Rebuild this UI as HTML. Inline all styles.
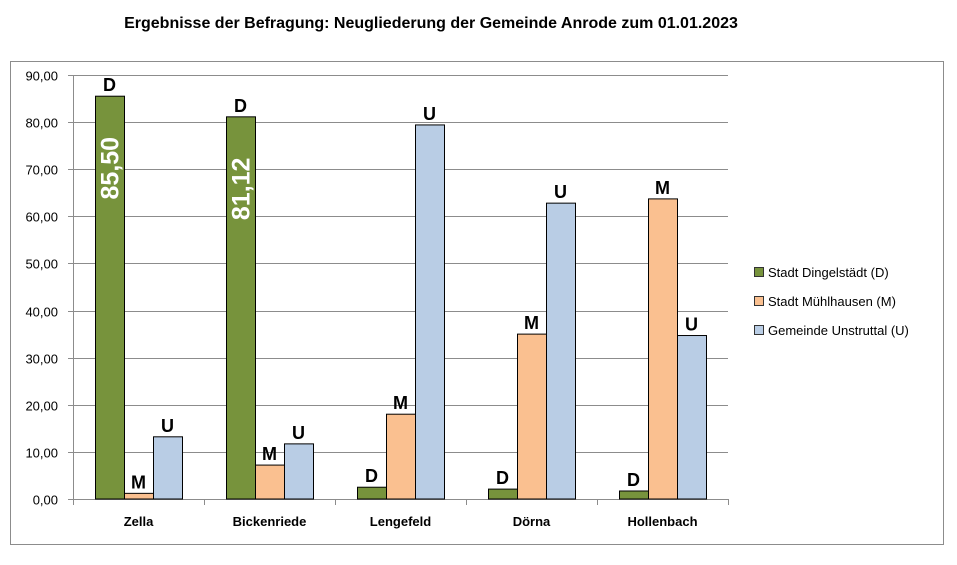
<!DOCTYPE html>
<html><head><meta charset="utf-8"><style>
body{margin:0;background:#fff;font-family:"Liberation Sans",sans-serif}
</style></head><body>
<svg width="957" height="560" viewBox="0 0 957 560">
<text x="431" y="28" text-anchor="middle" font-size="16" font-weight="bold" font-family="Liberation Sans">Ergebnisse der Befragung: Neugliederung der Gemeinde Anrode zum 01.01.2023</text>
<rect x="10.5" y="61.5" width="933" height="483" fill="none" stroke="#8c8c8c"/>
<g id="grid"></g><g id="bars"></g><g id="labels"></g>
<g font-size="13" font-family="Liberation Sans">
<g><rect x="754.5" y="267.5" width="9" height="9" fill="#77933c" stroke="#333"/><text x="768" y="277">Stadt Dingelstädt (D)</text></g>
<g><rect x="754.5" y="296.5" width="9" height="9" fill="#fac090" stroke="#333"/><text x="768" y="306">Stadt Mühlhausen (M)</text></g>
<g><rect x="754.5" y="325.5" width="9" height="9" fill="#b9cde5" stroke="#333"/><text x="768" y="335">Gemeinde Unstruttal (U)</text></g>
</g>
</svg>
<script>
const categories=["Zella","Bickenriede","Lengefeld","Dörna","Hollenbach"];
const dValues=[85.50,81.12,2.5,2.1,1.7];
const mValues=[1.2,7.2,18.0,35.0,63.7];
const uValues=[13.2,11.7,79.4,62.8,34.7];
const yTicks=[0,10,20,30,40,50,60,70,80,90];
const seriesLetters=["D","M","U"];
const NS="http://www.w3.org/2000/svg";
const X0=73,X1=728,Y0=499,Y1=75,YMAX=90;
const y=v=>Y0-(v/YMAX)*(Y0-Y1);
const cw=(X1-X0)/categories.length;
const bw=29;
function mk(t,a,p){const e=document.createElementNS(NS,t);for(const k in a)e.setAttribute(k,a[k]);p.appendChild(e);return e;}
const grid=document.getElementById('grid'),bars=document.getElementById('bars'),labels=document.getElementById('labels');
yTicks.forEach(t=>{const yy=Math.round(y(t))+0.5;
const l=mk('line',{x1:X0-5,x2:X1,y1:yy,y2:yy,stroke:'#8c8c8c'},grid);


const tx=mk('text',{x:58,y:yy+5,'text-anchor':'end','font-size':13},grid);


tx.textContent=t.toFixed(2).replace('.',',');});
const ax=mk('line',{x1:X0+0.5,x2:X0+0.5,y1:Y1,y2:Y0,stroke:'#8c8c8c'},grid);


for(let i=0;i<=categories.length;i++){const xx=Math.round(X0+i*cw)+0.5;const tk=mk('line',{x1:xx,x2:xx,y1:Y0,y2:Y0+6,stroke:'#8c8c8c'},grid);

}
const series=[dValues,mValues,uValues];const colors=["#77933c","#fac090","#b9cde5"];
categories.forEach((c,i)=>{const cx=X0+cw*(i+0.5);
const xl=mk('text',{x:cx,y:526,'text-anchor':'middle','font-size':13,'font-weight':'bold'},labels);


xl.textContent=c;
series.forEach((s,j)=>{const bx=cx-1.5*bw+j*bw;const top=y(s[i]);
const r=mk('rect',{x:bx+0.5,y:top,width:bw,height:Y0-top,fill:colors[j],stroke:'#000','stroke-width':1},bars);


const lt=mk('text',{x:bx+bw/2,y:top-5,'text-anchor':'middle','font-size':18,'font-weight':'bold'},labels);


lt.textContent=seriesLetters[j];
if(j===0&&s[i]>50){const vx=bx+bw/2+9,vy=top+72;
const vt=mk('text',{x:vx,y:vy,'text-anchor':'middle','font-size':25,'font-weight':'bold',fill:'#fff',transform:`rotate(-90 ${vx} ${vy})`},labels);


vt.textContent=s[i].toFixed(2).replace('.',',');}
});});
</script>
</body></html>
